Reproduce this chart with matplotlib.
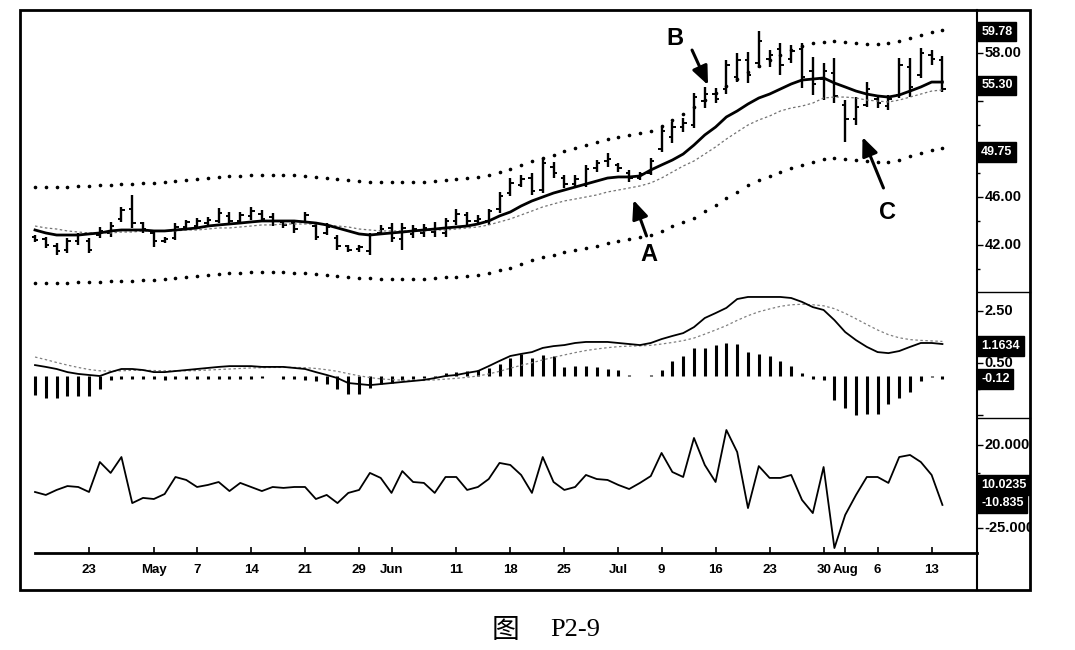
import numpy as np
import pandas as pd
import matplotlib
matplotlib.use("Agg")
import matplotlib.pyplot as plt
from matplotlib import transforms
from matplotlib.patches import Rectangle

plt.rcParams['font.family'] = ['Liberation Sans', 'DejaVu Sans']

# daily bars, 16 Apr - 14 Aug 2001
high = [42.83, 42.67, 42.17, 42.58, 43.0, 42.58, 43.5, 43.9, 45.2, 46.2,
        43.9, 43.25, 42.67, 43.8, 44.1, 44.25, 44.3, 45.1, 44.75, 44.75,
        45.17, 44.9, 44.67, 44.1, 44.1, 44.75, 43.8, 43.8, 42.83, 42.0,
        42.0, 43.0, 43.67, 43.83, 43.83, 43.67, 43.75, 43.9, 44.25, 45.0,
        44.75, 44.5, 45.0, 46.4, 47.6, 47.83, 48.0, 49.25, 48.9, 47.83,
        47.83, 48.67, 49.1, 49.67, 48.8, 48.25, 48.1, 49.25, 51.83, 52.25,
        52.58, 54.67, 55.17, 55.1, 57.4, 58.0, 58.1, 59.8, 58.25, 58.83,
        58.67, 58.83, 57.67, 57.17, 57.6, 54.08, 54.33, 55.58, 54.5, 54.5,
        57.58, 57.58, 58.42, 58.25, 57.75]
low = [42.25, 41.75, 41.17, 41.33, 42.0, 41.33, 42.58, 42.67, 43.9, 43.4,
       43.0, 41.8, 42.17, 42.4, 43.25, 43.4, 43.5, 43.8, 43.67, 43.8,
       44.1, 43.9, 43.6, 43.4, 43.0, 43.8, 42.4, 42.83, 41.58, 41.42,
       41.42, 41.17, 42.83, 42.25, 41.58, 42.58, 42.67, 42.67, 42.67, 43.67,
       43.67, 43.67, 43.67, 44.67, 46.1, 46.83, 46.17, 46.33, 47.58, 46.75,
       46.83, 46.83, 48.1, 48.5, 48.1, 47.25, 47.4, 47.83, 49.75, 50.5,
       51.42, 51.75, 53.42, 53.83, 54.6, 55.58, 55.5, 56.75, 56.83, 56.17,
       57.17, 55.1, 54.5, 54.1, 53.83, 50.6, 52.0, 53.5, 53.42, 53.25,
       54.25, 54.33, 55.9, 57.0, 54.75]
opn = [42.7, 42.5, 41.9, 41.6, 42.3, 42.3, 42.8, 43.0, 44.2, 45.0,
       43.8, 43.0, 42.3, 42.6, 43.5, 43.6, 43.8, 44.0, 44.4, 44.0,
       44.4, 44.6, 44.3, 43.9, 43.8, 43.9, 43.6, 43.0, 42.6, 41.9,
       41.7, 41.5, 43.0, 43.4, 42.5, 42.9, 43.0, 43.1, 43.0, 44.0,
       44.5, 44.0, 44.0, 45.0, 46.3, 47.0, 47.6, 46.6, 48.5, 47.6,
       47.1, 47.0, 48.4, 49.0, 48.7, 48.0, 47.6, 48.0, 50.0, 51.0,
       51.8, 52.0, 54.0, 54.6, 55.0, 56.0, 57.4, 57.2, 57.5, 58.3,
       57.5, 58.3, 56.5, 55.8, 56.3, 53.7, 52.5, 53.7, 54.2, 53.6,
       54.5, 56.8, 56.2, 57.8, 57.4]
close = [42.4, 42.0, 41.5, 42.3, 42.8, 41.6, 43.2, 43.6, 44.9, 43.8,
         43.3, 42.3, 42.5, 43.5, 43.9, 44.0, 44.1, 44.7, 44.0, 44.5,
         44.8, 44.2, 44.0, 43.7, 43.3, 44.5, 42.7, 43.5, 41.9, 41.6,
         41.8, 42.8, 43.3, 42.6, 43.4, 43.3, 43.4, 43.3, 44.0, 44.6,
         44.0, 44.2, 44.8, 46.1, 47.2, 47.5, 46.5, 48.8, 48.0, 47.1,
         47.5, 48.3, 48.8, 49.2, 48.4, 47.6, 47.9, 49.0, 51.5, 51.8,
         52.2, 54.3, 54.6, 54.2, 57.0, 57.4, 56.2, 59.0, 57.8, 57.0,
         58.2, 56.0, 55.4, 56.5, 54.4, 52.5, 53.5, 55.0, 53.8, 54.2,
         57.0, 55.2, 58.0, 57.5, 55.0]

ma = [43.25, 43.0, 42.83, 42.83, 42.83, 42.92, 43.0, 43.17, 43.25, 43.25,
      43.25, 43.17, 43.17, 43.25, 43.33, 43.42, 43.58, 43.67, 43.75, 43.83,
      43.92, 44.0, 44.0, 44.0, 44.0, 43.92, 43.83, 43.67, 43.42, 43.17,
      42.92, 42.83, 42.92, 43.0, 43.08, 43.17, 43.25, 43.33, 43.42, 43.5,
      43.58, 43.75, 44.0, 44.42, 44.75, 45.25, 45.67, 46.0, 46.33, 46.58,
      46.83, 47.08, 47.33, 47.58, 47.67, 47.67, 47.75, 48.25, 48.67, 49.08,
      49.58, 50.33, 51.17, 51.83, 52.67, 53.17, 53.75, 54.25, 54.58, 55.0,
      55.42, 55.75, 55.83, 55.92, 55.5, 55.17, 54.83, 54.58, 54.42, 54.33,
      54.5, 54.83, 55.17, 55.58, 55.58]
ma2 = [43.58, 43.42, 43.33, 43.17, 43.08, 43.0, 43.0, 43.0, 43.08, 43.08,
       43.17, 43.17, 43.17, 43.17, 43.25, 43.25, 43.33, 43.42, 43.42, 43.5,
       43.58, 43.67, 43.67, 43.75, 43.75, 43.75, 43.75, 43.67, 43.58, 43.5,
       43.33, 43.25, 43.17, 43.17, 43.17, 43.17, 43.17, 43.25, 43.25, 43.33,
       43.42, 43.5, 43.67, 43.92, 44.17, 44.5, 44.83, 45.17, 45.42, 45.67,
       45.83, 46.0, 46.17, 46.42, 46.58, 46.75, 46.92, 47.17, 47.58, 48.08,
       48.58, 49.0, 49.58, 50.17, 50.83, 51.42, 52.0, 52.42, 52.75, 53.17,
       53.42, 53.58, 53.83, 54.25, 54.33, 54.33, 54.25, 54.08, 54.0, 53.92,
       54.08, 54.33, 54.58, 54.83, 54.92]
upper = [46.83, 46.83, 46.83, 46.83, 46.92, 46.92, 47.0, 47.0, 47.08, 47.08,
         47.17, 47.17, 47.25, 47.33, 47.42, 47.5, 47.58, 47.67, 47.75, 47.75,
         47.83, 47.83, 47.83, 47.83, 47.83, 47.75, 47.67, 47.58, 47.5, 47.42,
         47.33, 47.25, 47.25, 47.25, 47.25, 47.25, 47.25, 47.33, 47.42, 47.5,
         47.58, 47.67, 47.83, 48.08, 48.33, 48.67, 49.0, 49.25, 49.5, 49.83,
         50.08, 50.33, 50.58, 50.83, 51.0, 51.17, 51.33, 51.5, 51.92, 52.42,
         52.92, 53.5, 54.08, 54.67, 55.25, 55.83, 56.42, 56.92, 57.42, 57.83,
         58.25, 58.58, 58.83, 58.92, 59.0, 58.92, 58.83, 58.75, 58.75, 58.83,
         59.0, 59.25, 59.5, 59.75, 59.92]
lower = [38.83, 38.83, 38.83, 38.83, 38.92, 38.92, 38.92, 39.0, 39.0, 39.0,
         39.08, 39.08, 39.17, 39.25, 39.33, 39.42, 39.5, 39.58, 39.67, 39.67,
         39.75, 39.75, 39.75, 39.75, 39.67, 39.67, 39.58, 39.5, 39.42, 39.33,
         39.25, 39.25, 39.17, 39.17, 39.17, 39.17, 39.17, 39.25, 39.33, 39.33,
         39.42, 39.5, 39.67, 39.92, 40.08, 40.42, 40.75, 41.0, 41.17, 41.42,
         41.58, 41.75, 41.92, 42.17, 42.33, 42.5, 42.67, 42.83, 43.17, 43.58,
         43.92, 44.25, 44.83, 45.33, 45.92, 46.42, 47.0, 47.42, 47.75, 48.08,
         48.42, 48.67, 48.92, 49.17, 49.25, 49.17, 49.08, 49.0, 48.92, 48.92,
         49.08, 49.42, 49.67, 49.92, 50.08]

macd = [0.42, 0.35, 0.27, 0.15, 0.08, 0.04, 0.00, 0.15, 0.27, 0.27,
        0.23, 0.15, 0.15, 0.19, 0.23, 0.27, 0.31, 0.35, 0.38, 0.38,
        0.38, 0.35, 0.35, 0.35, 0.31, 0.27, 0.15, 0.04, -0.08, -0.27,
        -0.31, -0.35, -0.31, -0.27, -0.23, -0.19, -0.15, -0.08, 0.00, 0.04,
        0.12, 0.19, 0.38, 0.58, 0.77, 0.85, 0.92, 1.08, 1.15, 1.19,
        1.27, 1.31, 1.31, 1.31, 1.27, 1.23, 1.19, 1.27, 1.42, 1.54,
        1.65, 1.88, 2.23, 2.42, 2.62, 2.96, 3.04, 3.04, 3.04, 3.04,
        3.00, 2.85, 2.65, 2.54, 2.15, 1.69, 1.38, 1.12, 0.92, 0.88,
        0.96, 1.12, 1.27, 1.27, 1.23]
signal = [0.73, 0.63, 0.52, 0.42, 0.33, 0.25, 0.20, 0.19, 0.20, 0.22,
          0.22, 0.21, 0.20, 0.20, 0.20, 0.21, 0.23, 0.25, 0.27, 0.29,
          0.31, 0.32, 0.33, 0.33, 0.33, 0.32, 0.29, 0.24, 0.18, 0.09,
          0.01, -0.06, -0.11, -0.14, -0.16, -0.17, -0.17, -0.15, -0.12, -0.09,
          -0.05, 0.00, 0.08, 0.18, 0.30, 0.41, 0.51, 0.62, 0.72, 0.81,
          0.90, 0.98, 1.04, 1.09, 1.13, 1.15, 1.16, 1.18, 1.23, 1.29,
          1.36, 1.46, 1.61, 1.77, 1.94, 2.14, 2.32, 2.47, 2.58, 2.68,
          2.74, 2.76, 2.74, 2.70, 2.59, 2.41, 2.20, 1.98, 1.77, 1.59,
          1.47, 1.40, 1.37, 1.35, 1.33]
hist = [-0.73, -0.85, -0.85, -0.77, -0.77, -0.77, -0.5, -0.15, -0.1, -0.12,
        -0.1, -0.12, -0.15, -0.1, -0.12, -0.1, -0.1, -0.12, -0.1, -0.1,
        -0.1, -0.08, 0.0, -0.1, -0.12, -0.15, -0.2, -0.3, -0.5, -0.7,
        -0.7, -0.45, -0.3, -0.25, -0.15, -0.1, -0.08, -0.05, 0.1, 0.15,
        0.2, 0.25, 0.3, 0.45, 0.69, 0.85, 0.69, 0.8, 0.77, 0.35,
        0.38, 0.38, 0.35, 0.27, 0.25, 0.05, 0.0, 0.05, 0.25, 0.58,
        0.77, 1.08, 1.08, 1.19, 1.27, 1.23, 0.92, 0.85, 0.77, 0.58,
        0.38, 0.12, -0.1, -0.15, -0.92, -1.23, -1.5, -1.46, -1.46, -1.08,
        -0.85, -0.62, -0.2, -0.05, -0.1]

osc = [-5.4, -7.0, -4.3, -2.2, -2.7, -5.4, 10.8, 4.9, 13.5, -11.4,
       -8.6, -9.2, -6.5, 2.7, 1.1, -2.7, -1.6, 0.0, -4.9, -0.5,
       -2.7, -4.9, -2.7, -3.2, -2.7, -2.7, -9.2, -7.0, -11.4, -5.9,
       -4.3, 4.9, 2.2, -5.9, 5.9, 0.0, -0.5, -5.9, 2.7, 2.7,
       -4.3, -2.7, 1.6, 10.3, 9.2, 3.8, -5.9, 13.5, 0.0, -4.3,
       -2.7, 3.8, 1.6, 1.1, -1.6, -3.8, -0.5, 3.2, 15.7, 5.4,
       2.7, 23.8, 9.2, 0.0, 28.1, 16.2, -14.1, 8.6, 2.2, 2.2,
       3.8, -9.7, -16.8, 8.1, -35.7, -17.8, -7.0, 2.7, 2.7, -0.5,
       13.5, 14.6, 10.8, 3.8, -12.4]

tick_dates = ['2001-04-23', '2001-05-01', '2001-05-07', '2001-05-14', '2001-05-21',
              '2001-05-29', '2001-06-01', '2001-06-11', '2001-06-18', '2001-06-25',
              '2001-07-02', '2001-07-09', '2001-07-16', '2001-07-23', '2001-07-30',
              '2001-08-01', '2001-08-06', '2001-08-13']
tick_labels = ['23', 'May', '7', '14', '21', '29', 'Jun', '11', '18', '25',
               'Jul', '9', '16', '23', '30', 'Aug', '6', '13']

price_labels = [(58, '58.00'), (46, '46.00'), (42, '42.00')]
price_boxes = [(59.78, '59.78'), (55.30, '55.30'), (49.75, '49.75')]
macd_labels = [(2.5, '2.50'), (0.5, '0.50')]
macd_boxes = [(1.16, '1.1634'), (-0.12, '-0.12')]
osc_labels = [(20, '20.000'), (-25, '-25.000')]
osc_boxes = [(-1.6, '10.0235'), (-11.4, '-10.835')]

dates = pd.bdate_range('2001-04-16', '2001-08-14')
dates = dates.drop(pd.to_datetime(['2001-05-28', '2001-07-04']))
x = np.arange(len(dates))
tick_pos = [dates.get_loc(pd.Timestamp(d)) for d in tick_dates]

W, H = 1075, 650
fig = plt.figure(figsize=(W / 100, H / 100), dpi=100)


def frac(x0, y0, x1, y1):
    # pixel box (top-left origin) -> figure fraction rect
    return [x0 / W, 1 - y1 / H, (x1 - x0) / W, (y1 - y0) / H]


frame = fig.add_axes([0, 0, 1, 1])
frame.set_xlim(0, W)
frame.set_ylim(H, 0)
frame.axis('off')
frame.add_patch(Rectangle((20, 10), 1010, 580, fill=False, lw=2, ec='black'))
frame.plot([977, 977], [10, 590], color='black', lw=1.5)
for yy in (292, 418):
    frame.plot([977, 1030], [yy, yy], color='black', lw=1)

ax_p = fig.add_axes(frac(20, 12, 977, 292), facecolor='none')
ax_m = fig.add_axes(frac(20, 292, 977, 418), facecolor='none', sharex=ax_p)
ax_o = fig.add_axes(frac(20, 418, 977, 553), facecolor='none', sharex=ax_p)
lab = fig.add_axes(frac(977, 10, 1030, 590), facecolor='none')
lab.axis('off')

xr = 87.2
ax_p.set_xlim(-1.39, xr)
ax_p.set_ylim(38.08, 61.42)
ax_m.set_ylim(-1.615, 3.231)
ax_o.set_ylim(-38.38, 34.59)

# price panel
hw = 0.32
ax_p.vlines(x, low, high, color='black', lw=1.7)
ax_p.hlines(opn, x - hw, x, color='black', lw=1.4)
ax_p.hlines(close, x, x + hw, color='black', lw=1.4)
ax_p.plot(x, ma2, color='0.45', lw=0.9, ls=(0, (2, 2)))
ax_p.plot(x, ma, color='black', lw=2.0)
ax_p.plot(x, upper, ls='none', marker='o', ms=1.6, color='black')
ax_p.plot(x, lower, ls='none', marker='o', ms=1.6, color='black')

# macd panel
ax_m.vlines(x, 0, hist, color='black', lw=2.2)
ax_m.plot(x, signal, color='0.5', lw=0.9, ls=(0, (2, 2)))
ax_m.plot(x, macd, color='black', lw=1.3)

# oscillator panel
ax_o.plot(x, osc, color='black', lw=1.3)

for ax in (ax_p, ax_m, ax_o):
    for s in ax.spines.values():
        s.set_visible(False)
    ax.yaxis.tick_right()
    ax.tick_params(axis='y', direction='out', length=4, width=1, labelright=False)
    ax.tick_params(axis='y', which='minor', direction='out', length=2, width=1)
    ax.tick_params(axis='x', bottom=False, labelbottom=False)

ax_p.set_yticks([42, 46, 50, 54, 58])
ax_p.set_yticks([40, 44, 48, 52, 56, 60], minor=True)
ax_m.set_yticks([-1.5, 0.5, 2.5])
ax_m.set_yticks([-0.5, 1.5], minor=True)
ax_o.set_yticks([-25, 20])
ax_o.set_yticks([-10, 5], minor=True)

ax_o.spines['bottom'].set_visible(True)
ax_o.spines['bottom'].set_linewidth(2)
ax_o.spines['bottom'].set_bounds(0, xr)
ax_o.set_xticks(tick_pos)
ax_o.set_xticklabels(tick_labels, fontweight='bold', fontsize=9.5)
ax_o.tick_params(axis='x', bottom=True, labelbottom=True, direction='in',
                 length=4, width=1.2, pad=8)


def right_labels(ax, labels, boxes):
    tr = transforms.blended_transform_factory(lab.transAxes, ax.transData)
    for v, s in labels:
        lab.text(0.14, v, s, transform=tr, ha='left', va='center', fontsize=10.5,
                 fontweight='bold', clip_on=True)
    for v, s in boxes:
        lab.text(0.08, v, s, transform=tr, ha='left', va='center', fontsize=9,
                 fontweight='bold', color='white', clip_on=True,
                 bbox=dict(boxstyle='square,pad=0.3', fc='black', ec='black'))


right_labels(ax_p, price_labels, price_boxes)
right_labels(ax_m, macd_labels, macd_boxes)
right_labels(ax_o, osc_labels, osc_boxes)

# A / B / C arrows
arrow_kw = dict(arrowstyle='-|>,head_length=0.75,head_width=0.32', color='black',
                lw=2.2, shrinkA=0, shrinkB=0, mutation_scale=15)
notes = [('A', (55.4, 45.75), (9.4, -25.9), (10.8, -39.6)),
         ('B', (62.3, 55.33), (-11.5, 25.2), (-23.8, 33.8)),
         ('C', (76.6, 51.0), (15.1, -36.7), (18.0, -54.0))]
for name, tip, tail, txt in notes:
    ax_p.annotate('', xy=tip, xytext=tail, textcoords='offset points',
                  arrowprops=arrow_kw, annotation_clip=False)
    ax_p.annotate(name, xy=tip, xytext=txt, textcoords='offset points',
                  ha='center', va='center', fontsize=17, fontweight='bold')

# caption
fig.text(506 / W, 1 - 630 / H, '图', fontsize=20, family=['Noto Sans CJK SC'],
         ha='center', va='center')
fig.text(575 / W, 1 - 630 / H, 'P2-9', fontsize=19, family='Liberation Serif',
         ha='center', va='center')

fig.savefig('out.png', dpi=100)
